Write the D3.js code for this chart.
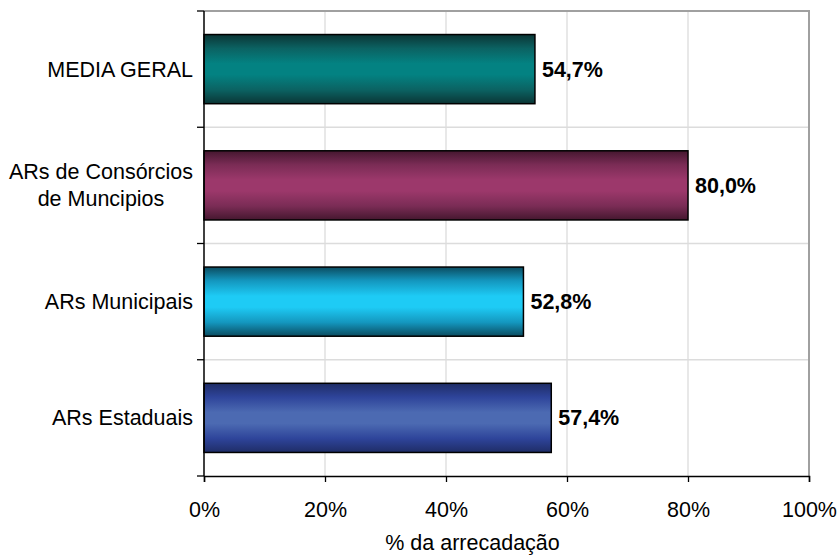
<!DOCTYPE html>
<html>
<head>
<meta charset="utf-8">
<script src="https://cdn.jsdelivr.net/npm/d3@7"></script>
<style>
  html, body { margin: 0; padding: 0; background: #fff; }
  svg { display: block; font-family: "Liberation Sans", Arial, sans-serif; }
</style>
</head>
<body>
<svg id="chart" width="839" height="557"></svg>
<script>
// Categories from top to bottom, with their share of revenue (%)
const categories = ["MEDIA GERAL", "ARs de Consórcios\nde Muncipios", "ARs Municipais", "ARs Estaduais"];
const values = [54.7, 80.0, 52.8, 57.4];
const valueLabels = ["54,7%", "80,0%", "52,8%", "57,4%"];
const xTicks = [0, 20, 40, 60, 80, 100];
const xTitle = "% da arrecadação";

// Gradient stops per bar: edge, mid, centre colours
const barPalettes = [
  { edge: "#0b3535", mid: "#0b6262", centre: "#038282" },
  { edge: "#45172f", mid: "#7a2c55", centre: "#9c386b" },
  { edge: "#0b4c60", mid: "#1497bf", centre: "#1ecbf5" },
  { edge: "#1f2d66", mid: "#2e449a", centre: "#4c6ab2" }
];

const FS = 21.5;
const svg = d3.select("#chart");
const margin = { left: 204, right: 30, top: 11, bottom: 81 };
const W = 839, H = 557;
const innerW = W - margin.left - margin.right;
const innerH = H - margin.top - margin.bottom;

const x = d3.scaleLinear().domain([0, 100]).range([margin.left, margin.left + innerW]);
const y = d3.scaleBand().domain(d3.range(categories.length))
  .range([margin.top, margin.top + innerH]).paddingInner(0.405).paddingOuter(0.2025);

// Gradients
const defs = svg.append("defs");
barPalettes.forEach((p, i) => {
  const g = defs.append("linearGradient").attr("id", "bar" + i)
    .attr("x1", 0).attr("y1", 0).attr("x2", 0).attr("y2", 1);
  [[0, p.edge], [0.2, p.mid], [0.42, p.centre], [0.58, p.centre], [0.8, p.mid], [1, p.edge]]
    .forEach(([o, c]) => g.append("stop").attr("offset", o).attr("stop-color", c));
});

// Vertical gridlines
svg.append("g").selectAll("line").data(xTicks.slice(1, -1)).join("line")
  .attr("x1", d => x(d)).attr("x2", d => x(d))
  .attr("y1", margin.top).attr("y2", margin.top + innerH)
  .attr("stroke", "#dcdcdc").attr("stroke-width", 1.3);

// Horizontal gridlines at category boundaries
const bounds = d3.range(1, categories.length).map(i => margin.top + i * innerH / categories.length);
svg.append("g").selectAll("line").data(bounds).join("line")
  .attr("x1", margin.left).attr("x2", margin.left + innerW)
  .attr("y1", d => d).attr("y2", d => d)
  .attr("stroke", "#dcdcdc").attr("stroke-width", 1.3);

// Plot frame (top and right)
svg.append("path")
  .attr("d", `M${margin.left},${margin.top}H${margin.left + innerW}V${margin.top + innerH}`)
  .attr("fill", "none").attr("stroke", "#a0a0a0").attr("stroke-width", 2);

// Bars
svg.append("g").selectAll("rect").data(values).join("rect")
  .attr("x", x(0))
  .attr("y", (d, i) => y(i))
  .attr("width", d => x(d) - x(0))
  .attr("height", y.bandwidth())
  .attr("fill", (d, i) => `url(#bar${i})`)
  .attr("stroke", "#000").attr("stroke-width", 1.5);

// Value labels
svg.append("g").selectAll("text").data(values).join("text")
  .attr("x", d => x(d) + 7)
  .attr("y", (d, i) => y(i) + y.bandwidth() / 2)
  .attr("dy", "0.35em")
  .attr("font-size", FS).attr("font-weight", "bold").attr("fill", "#000")
  .text((d, i) => valueLabels[i]);

// Y axis line and ticks at category boundaries
const yAxis = svg.append("g");
yAxis.append("line").attr("x1", margin.left).attr("x2", margin.left)
  .attr("y1", margin.top).attr("y2", margin.top + innerH)
  .attr("stroke", "#000").attr("stroke-width", 1.5);
yAxis.selectAll("line.tick").data([margin.top, ...bounds, margin.top + innerH]).join("line")
  .attr("class", "tick")
  .attr("x1", margin.left - 7).attr("x2", margin.left)
  .attr("y1", d => d).attr("y2", d => d)
  .attr("stroke", "#000").attr("stroke-width", 1.3);

// Category labels (multi-line labels centred within a right-aligned block)
const labelRight = 193;
categories.forEach((c, i) => {
  const lines = c.split("\n");
  const cy = y(i) + y.bandwidth() / 2;
  const t = svg.append("text").attr("font-size", FS).attr("fill", "#000");
  const lh = 27;
  lines.forEach((ln, j) => {
    t.append("tspan").attr("x", 0)
      .attr("y", cy + (j - (lines.length - 1) / 2) * lh)
      .attr("dy", "0.35em").text(ln);
  });
  const widths = [];
  t.selectAll("tspan").each(function () { widths.push(this.getComputedTextLength()); });
  const bw = d3.max(widths);
  t.attr("text-anchor", "middle");
  t.selectAll("tspan").attr("x", labelRight - bw / 2);
});

// X axis
const xAxis = d3.axisBottom(x).tickValues(xTicks).tickFormat(d => d + "%").tickSizeOuter(0).tickSize(6);
const gx = svg.append("g").attr("transform", `translate(0,${margin.top + innerH})`).call(xAxis);
gx.select(".domain").attr("stroke", "#000").attr("stroke-width", 1.5);
gx.selectAll(".tick line").attr("stroke", "#000").attr("stroke-width", 1.3);
gx.selectAll(".tick text").attr("font-size", FS).attr("font-family", "Liberation Sans, Arial, sans-serif")
  .attr("fill", "#000").attr("dy", "1.5em");

// X axis title
svg.append("text").attr("x", x(50) - 34).attr("y", 550)
  .attr("text-anchor", "middle").attr("font-size", FS).attr("fill", "#000")
  .text(xTitle);
</script>
</body>
</html>
